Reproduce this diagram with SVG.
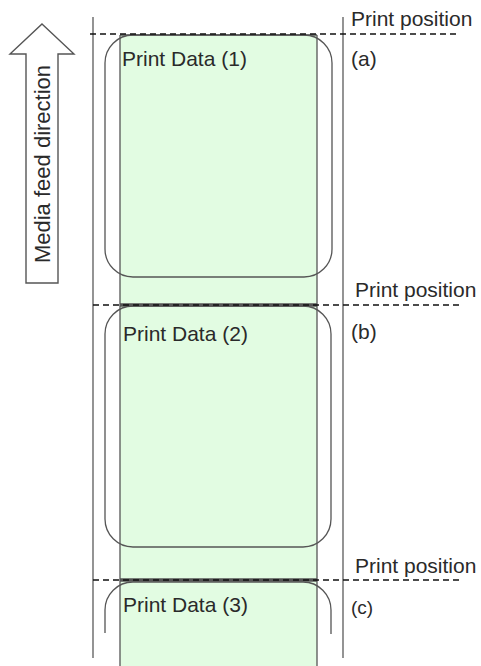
<svg xmlns="http://www.w3.org/2000/svg" width="481" height="666" viewBox="0 0 481 666">
<style>
text{font-family:"Liberation Sans",Arial,sans-serif;font-size:21px;fill:#2a2a2a}
.rail{stroke:#888;stroke-width:1.8;fill:none}
.edge{stroke:#555;stroke-width:1.3;fill:none}
.area{stroke:#555;stroke-width:1.3;fill:none}
.gap{stroke:#555;stroke-width:3.5;fill:none}
.dash{stroke:#111;stroke-width:1.5;stroke-dasharray:6,4;fill:none}
</style>
<rect x="0" y="0" width="481" height="666" fill="#fff"/>
<g id="feed-arrow">
<polygon points="42,24 74,54 58,54 58,283 26,283 26,54 10,54" fill="#fff" stroke="#555" stroke-width="1.4"/>
<text transform="translate(50,164) rotate(-90)" text-anchor="middle" style="font-size:22px">Media feed direction</text>
</g>
<g id="media">
<line class="rail" x1="93" y1="17" x2="93" y2="658"/>
<line class="rail" x1="343" y1="17" x2="343" y2="658"/>
<rect x="120" y="35" width="197" height="640" fill="#E2FCE2"/>
<line class="edge" x1="120" y1="35" x2="120" y2="666"/>
<line class="edge" x1="317" y1="35" x2="317" y2="666"/>
<line class="edge" x1="120" y1="35" x2="317" y2="35"/>
</g>
<g id="print-data-1">
<rect class="area" x="105" y="35" width="227" height="242" rx="28" ry="28"/>
<text x="122" y="66">Print Data (1)</text>
</g>
<g id="print-data-2">
<rect class="area" x="105" y="306" width="226" height="241" rx="28" ry="28"/>
<text x="123" y="341">Print Data (2)</text>
</g>
<g id="print-data-3">
<path class="area" d="M105,633 V610 A28,28 0 0 1 133,582 H303 A28,28 0 0 1 331,610 V634"/>
<text x="123" y="612">Print Data (3)</text>
</g>
<g id="connectors">
<line class="gap" x1="120" y1="305" x2="317" y2="305"/>
<line class="gap" x1="120" y1="580" x2="317" y2="580"/>
<line class="dash" x1="90" y1="34" x2="458" y2="34"/>
<line class="dash" x1="93" y1="305" x2="460" y2="305"/>
<line class="dash" x1="93" y1="580" x2="460" y2="580"/>
</g>
<g id="position-a">
<text x="351" y="26">Print position</text>
<text x="351" y="66">(a)</text>
</g>
<g id="position-b">
<text x="355" y="297">Print position</text>
<text x="351" y="339">(b)</text>
</g>
<g id="position-c">
<text x="355" y="573">Print position</text>
<text x="351" y="614" style="font-size:19px">(c)</text>
</g>
</svg>
